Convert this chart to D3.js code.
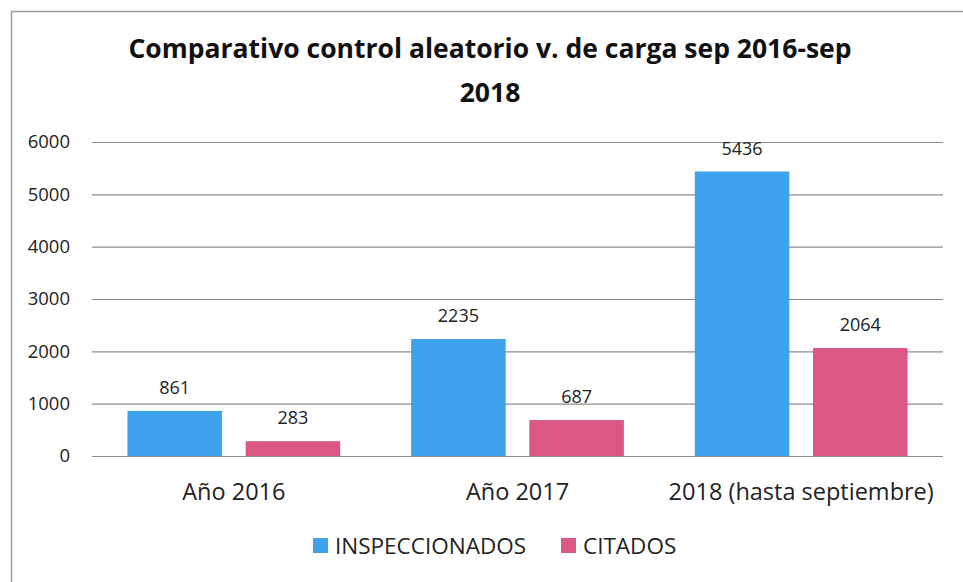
<!DOCTYPE html>
<html>
<head>
<meta charset="utf-8">
<script src="https://cdn.jsdelivr.net/npm/d3@7"></script>
<style>
    body { margin: 0; background: #fff; }
    svg { display: block; font-family: "Open Sans", "Noto Sans", sans-serif; }
</style>
</head>
<body>
<svg id="chart" width="963" height="582"></svg>
<script>
var categories = ["Año 2016", "Año 2017", "2018 (hasta septiembre)"];
var seriesNames = ["INSPECCIONADOS", "CITADOS"];
var inspeccionados = [861, 2235, 5436];
var citados = [283, 687, 2064];
var yTicks = [0, 1000, 2000, 3000, 4000, 5000, 6000];
var titleLines = ["Comparativo control aleatorio v. de carga sep 2016-sep", "2018"];

var colors = {"INSPECCIONADOS": "#3ea3ec", "CITADOS": "#da5883"};

var svg = d3.select("#chart");

var margin = {top: 142, right: 20, bottom: 126, left: 92},
    width = +svg.attr("width") - margin.left - margin.right,
    height = +svg.attr("height") - margin.top - margin.bottom;

// frame (only top and left edges are visible in the source)
svg.append("path")
    .attr("d", "M11.5,582V11.5H963")
    .attr("fill", "none")
    .attr("stroke", "#9a9a9a")
    .attr("stroke-width", 1.5);

// title
svg.append("g")
    .selectAll("text")
    .data(titleLines)
    .enter().append("text")
    .attr("x", 490)
    .attr("y", function (d, i) { return 58 + i * 44; })
    .attr("text-anchor", "middle")
    .attr("font-weight", "bold")
    .attr("font-size", "26.5px")
    .attr("fill", "#111")
    .text(function (d) { return d; });

var g = svg.append("g").attr("transform", "translate(" + margin.left + "," + margin.top + ")");

var x0 = d3.scaleBand()
    .domain(categories)
    .range([0, width])
    .padding(0);

var x1 = d3.scaleBand()
    .domain(seriesNames)
    .range([0, x0.bandwidth()])
    .paddingInner(0.2)
    .paddingOuter(0.3);

var y = d3.scaleLinear()
    .domain([0, 6000])
    .range([height, 0]);

var data = categories.map(function (c, i) {
    return {cat: c, values: [
        {key: "INSPECCIONADOS", value: inspeccionados[i]},
        {key: "CITADOS", value: citados[i]}
    ]};
});

// gridlines
var axisY = d3.axisLeft(y)
    .tickValues(yTicks)
    .tickSize(-width)
    .tickPadding(22)
    .tickFormat(function (d) { return d; });

var yg = g.append("g")
    .attr("class", "axis axis--y")
    .call(axisY);
yg.select(".domain").remove();
yg.selectAll(".tick line")
    .attr("stroke", "#8c8c8c")
    .attr("stroke-width", 1.2);
yg.selectAll(".tick text")
    .attr("font-size", "18.5px")
    .attr("fill", "#222")
    .attr("font-family", "\"Open Sans\", sans-serif");

// bars
var groups = g.append("g")
    .selectAll("g")
    .data(data)
    .enter().append("g")
    .attr("transform", function (d) { return "translate(" + x0(d.cat) + ",0)"; });

groups.selectAll("rect")
    .data(function (d) { return d.values; })
    .enter().append("rect")
    .attr("x", function (d) { return x1(d.key); })
    .attr("y", function (d) { return y(d.value); })
    .attr("width", x1.bandwidth())
    .attr("height", function (d) { return y(0) - y(d.value); })
    .attr("fill", function (d) { return colors[d.key]; });

groups.selectAll("text")
    .data(function (d) { return d.values; })
    .enter().append("text")
    .attr("x", function (d) { return x1(d.key) + x1.bandwidth() / 2; })
    .attr("y", function (d) { return y(d.value) - 17; })
    .attr("text-anchor", "middle")
    .attr("font-size", "18px")
    .attr("fill", "#222")
    .text(function (d) { return d.value; });

// category axis labels
var axisX = d3.axisBottom(x0).tickSize(0).tickPadding(27);
var xg = g.append("g")
    .attr("class", "axis axis--x")
    .attr("transform", "translate(0," + height + ")")
    .call(axisX);
xg.select(".domain").remove();
xg.selectAll(".tick text")
    .attr("font-size", "23.5px")
    .attr("fill", "#222")
    .attr("font-family", "\"Open Sans\", sans-serif");

// legend
var legendX = [313, 561];
var legend = svg.append("g")
    .selectAll("g")
    .data(seriesNames)
    .enter().append("g")
    .attr("transform", function (d, i) { return "translate(" + legendX[i] + ",538)"; });

legend.append("rect")
    .attr("width", 15)
    .attr("height", 15)
    .attr("fill", function (d) { return colors[d]; });

legend.append("text")
    .attr("x", 22)
    .attr("y", 16)
    .attr("font-size", "22.5px")
    .attr("fill", "#222")
    .text(function (d) { return d; });
</script>
</body>
</html>
